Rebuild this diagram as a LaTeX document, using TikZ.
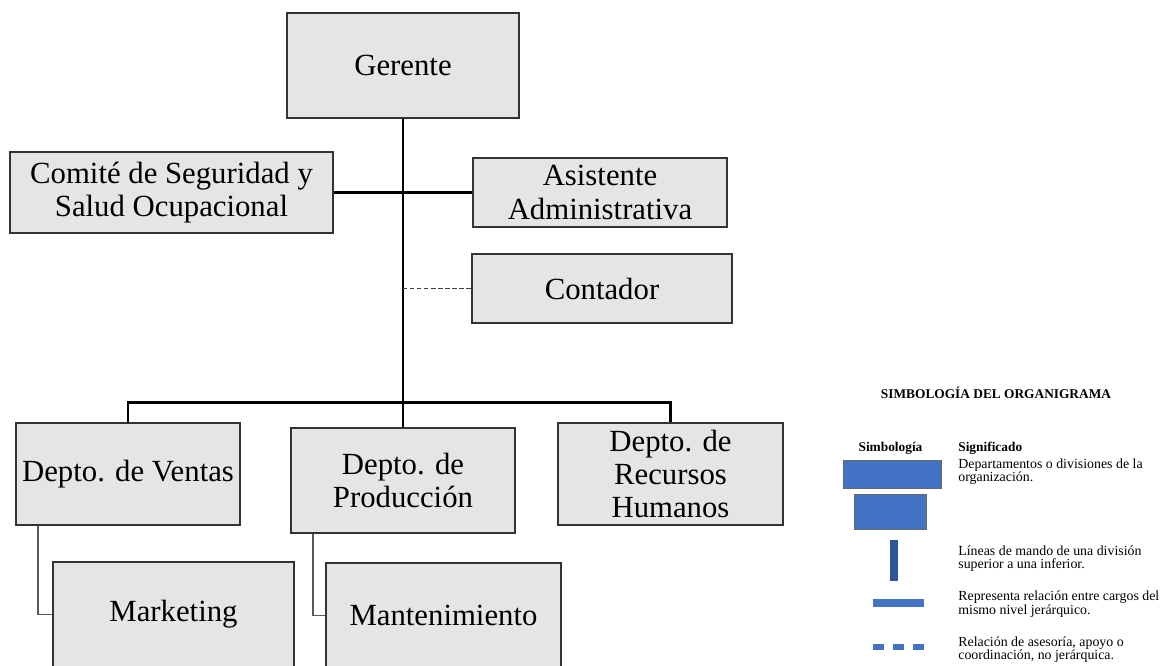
\documentclass[tikz,border=0pt]{standalone}
\usepackage{fontspec}
\setmainfont{Liberation Serif}
\begin{document}
\begin{tikzpicture}[
    unit/.style={draw=black!80, line width=0.8pt, rectangle, fill=black!10, align=center, inner sep=0pt, font=\fontsize{17.5}{19}\selectfont},
    trunk/.style={line width=1.7pt, black},
    sub/.style={line width=1.1pt, black!65},
    advice/.style={line width=0.85pt, black!75, dash pattern=on 2.5pt off 1.5pt},
    legtext/.style={anchor=west, align=left, inner sep=0pt, font=\fontsize{7.9}{7.6}\selectfont},
    leghead/.style={inner sep=0pt, font=\fontsize{7.6}{8}\selectfont\bfseries},
    legbox/.style={draw=black!60, line width=0.4pt, fill=legblue}
]
    \definecolor{legblue}{HTML}{4472C4}
    \definecolor{legdark}{HTML}{2F5597}
    \useasboundingbox (0,0) rectangle (23.26,-13.3);

    % Top level
    \node[unit, minimum width=4.64cm, minimum height=2.1cm] (ger) at (8.06,-1.31) {Gerente};

    % Staff units
    \node[unit, minimum width=6.46cm, minimum height=1.62cm] (com) at (3.43,-3.85) {Comité de Seguridad y\\Salud Ocupacional};
    \node[unit, minimum width=5.08cm, minimum height=1.38cm] (asi) at (12.0,-3.85) {Asistente\\Administrativa};
    \node[unit, minimum width=5.2cm, minimum height=1.38cm] (con) at (12.04,-5.77) {Contador};

    % Departments
    \node[unit, minimum width=4.48cm, minimum height=2.04cm] (ven) at (2.56,-9.48) {Depto. de Ventas};
    \node[unit, minimum width=4.48cm, minimum height=2.1cm] (pro) at (8.06,-9.61) {Depto. de\\Producción};
    \node[unit, minimum width=4.5cm, minimum height=2.04cm] (rrhh) at (13.41,-9.48) {Depto. de\\Recursos\\Humanos};

    % Sub units
    \node[unit, minimum width=4.82cm, minimum height=2.1cm] (mkt) at (3.47,-12.29) {Marketing};
    \node[unit, minimum width=4.7cm, minimum height=2.1cm] (man) at (8.87,-12.31) {Mantenimiento};

    % Lines of command
    \draw[trunk] (ger.south) -- (pro.north);
    \draw[trunk] (com.east) -- (asi.west);
    \draw[trunk] (ven.north) -- ++(0,0.4) -| (rrhh.north);
    \draw[advice] (ger.south |- con.west) -- (con.west);
    \draw[sub] ([xshift=0.46cm]ven.south west) |- (mkt.west);
    \draw[sub] ([xshift=0.46cm]pro.south west) |- (man.west);

    % Legend
    \node[leghead] (legtitle) at (19.92,-7.86) {SIMBOLOGÍA DEL ORGANIGRAMA};
    \node[leghead] (legsym) at (17.81,-8.96) {Simbología};
    \node[leghead, anchor=west] (legmean) at (19.16,-8.96) {Significado};
    \node[legtext] (legdept) at (19.16,-9.43) {Departamentos o divisiones de la\\organización.};
    \node[legtext] (legcmd) at (19.16,-11.17) {Líneas de mando de una división\\superior a una inferior.};
    \node[legtext] (legsame) at (19.16,-12.08) {Representa relación entre cargos del\\mismo nivel jerárquico.};
    \node[legtext] (legadv) at (19.16,-12.99) {Relación de asesoría, apoyo o\\coordinación, no jerárquica.};

    \draw[legbox] (16.86,-9.2) rectangle (18.82,-9.76);
    \draw[legbox] (17.08,-9.88) rectangle (18.52,-10.58);
    \fill[legdark] (17.8,-10.8) rectangle (17.96,-11.62);
    \fill[legblue] (17.46,-11.98) rectangle (18.48,-12.14);
    \foreach \x in {17.46,17.86,18.26}
        \fill[legblue] (\x,-12.88) rectangle ++(0.22,-0.12);
\end{tikzpicture}
\end{document}
